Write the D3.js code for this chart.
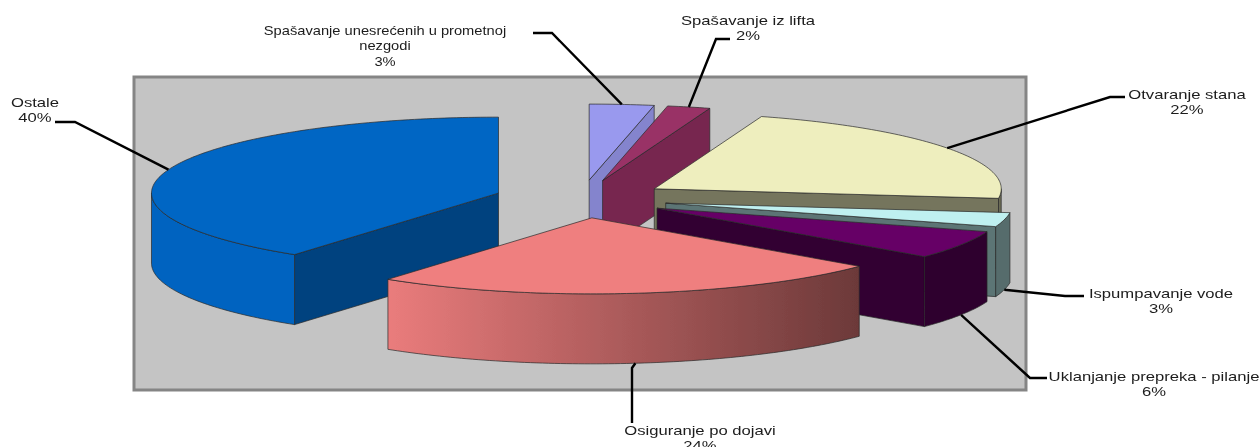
<!DOCTYPE html>
<html>
<head>
<meta charset="utf-8">
<script src="https://cdn.jsdelivr.net/npm/d3@7"></script>
<style>
  body { margin: 0; background: #fff; }
  text { font-family: "Liberation Sans", Arial, sans-serif; font-size: 13px; fill: #1c1c1c; }
</style>
</head>
<body>
<svg width="1260" height="447"></svg>
<script>
// slices clockwise from 12 o'clock
const categories = ['Spašavanje unesrećenih u prometnoj nezgodi', 'Spašavanje iz lifta', 'Otvaranje stana',
	'Ispumpavanje vode', 'Uklanjanje prepreka - pilanje', 'Osiguranje po dojavi', 'Ostale'];
const shares = [3, 2, 22, 3, 6, 24, 40];
const topColors = ['#9999ee', '#993366', '#eeeebe', '#bff0f0', '#660066', '#ef7f7f', '#0066c4'];
const labelLines = [
	['Spašavanje unesrećenih u prometnoj', 'nezgodi', '3%'],
	['Spašavanje iz lifta', '2%'],
	['Otvaranje stana', '22%'],
	['Ispumpavanje vode', '3%'],
	['Uklanjanje prepreka - pilanje', '6%'],
	['Osiguranje po dojavi', '24%'],
	['Ostale', '40%']
];

// label layout: text centre, first baseline, horizontal stretch, leader end and elbow
const labelBoxes = [
	{ x: 385, y: 35, sx: 1.13, end: [533, 33], elbow: [552, 33], onRim: false },
	{ x: 748, y: 25, sx: 1.28, end: [730, 39], elbow: [716, 39], onRim: false },
	{ x: 1187, y: 99, sx: 1.28, end: [1125, 97], elbow: [1110, 97], onRim: false },
	{ x: 1161, y: 298, sx: 1.28, end: [1084, 296], elbow: [1065, 296], onRim: true },
	{ x: 1154, y: 381, sx: 1.28, end: [1047, 378], elbow: [1030, 378], onRim: true },
	{ x: 700, y: 435, sx: 1.28, end: [632, 423], elbow: [632, 368], onRim: true },
	{ x: 35, y: 107, sx: 1.28, end: [55, 122], elbow: [75, 122], onRim: false }
];
const lineGap = 15.5;

const svg = d3.select('svg');
const cx = 581, cy = 199, rx = 347, ry = 76, depth = 70, explode = 0.25;

const xUnit = d3.scaleLinear().domain([-1, 1]).range([cx - rx, cx + rx]);
const yUnit = d3.scaleLinear().domain([-1, 1]).range([cy - ry, cy + ry]);

const pie = d3.pie().sort(null).value(d => d);
const arcs = pie(shares);
const deg = Math.PI / 180;

// how much darker the sides get
const rimShade = d3.scaleLinear().domain([-0.588, 0.77]).range([0.98, 0.45]).clamp(true);
const wallShade = d3.scaleLinear().domain([10.8, 18, 97.2, 129.6, 216]).range([0.86, 0.78, 0.49, 0.47, 0.65]);

function shade(color, k) {
	const c = d3.rgb(color);
	return d3.rgb(c.r * k, c.g * k, c.b * k).formatHex();
}

function pt(a, i, drop) {
	const d = arcs[i];
	const mid = (d.startAngle + d.endAngle) / 2;
	const ux = Math.sin(a) + explode * Math.sin(mid);
	const uy = -Math.cos(a) - explode * Math.cos(mid);
	return [xUnit(ux), yUnit(uy) + (drop || 0)];
}

function centre(i, drop) {
	const d = arcs[i];
	const mid = (d.startAngle + d.endAngle) / 2;
	return [xUnit(explode * Math.sin(mid)), yUnit(-explode * Math.cos(mid)) + (drop || 0)];
}

function sweep(a0, a1) {
	const n = Math.max(2, Math.ceil((a1 - a0) / deg));
	return d3.range(n + 1).map(k => a0 + (a1 - a0) * k / n);
}

const line = d3.line();
const defs = svg.append('defs');

const root = svg.append('g').attr('filter', 'url(#soft)');
defs.append('filter').attr('id', 'soft')
	.attr('filterUnits', 'userSpaceOnUse')
	.attr('x', 0).attr('y', 0).attr('width', 1260).attr('height', 447)
	.append('feGaussianBlur').attr('stdDeviation', 0.55);

root.append('rect').attr('x', 134).attr('y', 77).attr('width', 892).attr('height', 313)
	.attr('fill', '#c4c4c4').attr('stroke', '#858585').attr('stroke-width', 3);

// paint order: back slices first, the biggest slice sits behind the pink one
const paintOrder = [6, 0, 1, 2, 3, 4, 5];
const edge = '#2a2a2a';

paintOrder.forEach(i => {
	const d = arcs[i];
	const g = root.append('g').attr('class', 'slice');
	const color = topColors[i];
	const a0 = d.startAngle, a1 = d.endAngle;

	// radial wall facing the viewer
	let wallAngle = null;
	if (a1 / deg < 180) wallAngle = a1;
	else if (a0 / deg > 180) wallAngle = a0;
	if (wallAngle !== null) {
		const p = [centre(i), pt(wallAngle, i), pt(wallAngle, i, depth), centre(i, depth)];
		g.append('path').attr('d', line(p) + 'Z')
			.attr('fill', shade(color, wallShade(wallAngle / deg)))
			.attr('stroke', edge).attr('stroke-width', 0.7);
	}

	// outer rim, front half only
	const r0 = Math.max(a0, 90 * deg), r1 = Math.min(a1, 270 * deg);
	if (r1 > r0) {
		const angles = sweep(r0, r1);
		const upper = angles.map(a => pt(a, i));
		const lower = angles.map(a => pt(a, i, depth)).reverse();
		const xs = upper.map(p => p[0]);
		const id = 'rim' + i;
		const unitL = Math.min(Math.sin(r0), Math.sin(r1)), unitR = Math.max(Math.sin(r0), Math.sin(r1));
		const grad = defs.append('linearGradient').attr('id', id).attr('gradientUnits', 'userSpaceOnUse')
			.attr('x1', d3.min(xs)).attr('x2', d3.max(xs)).attr('y1', 0).attr('y2', 0);
		grad.append('stop').attr('offset', 0).attr('stop-color', shade(color, rimShade(unitL)));
		grad.append('stop').attr('offset', 1).attr('stop-color', shade(color, rimShade(unitR)));
		g.append('path').attr('d', line(upper.concat(lower)) + 'Z')
			.attr('fill', 'url(#' + id + ')')
			.attr('stroke', edge).attr('stroke-width', 0.7);
	}

	// top face
	const top = [centre(i)].concat(sweep(a0, a1).map(a => pt(a, i)));
	g.append('path').attr('d', line(top) + 'Z')
		.attr('fill', color).attr('stroke', edge).attr('stroke-width', 0.7);
});

// leader lines start on the rim at each slice's middle angle
const leaderG = root.append('g');
arcs.forEach((d, i) => {
	const mid = (d.startAngle + d.endAngle) / 2;
	const box = labelBoxes[i];
	const start = pt(mid, i, box.onRim ? depth : 0);
	leaderG.append('path').attr('d', line([start, box.elbow, box.end]))
		.attr('fill', 'none').attr('stroke', '#000').attr('stroke-width', 2.4);
});

const labelG = root.append('g');
labelLines.forEach((lines, i) => {
	const box = labelBoxes[i];
	const t = labelG.append('g').attr('transform', 'translate(' + box.x + ',' + box.y + ') scale(' + box.sx + ',1)');
	t.selectAll('text').data(lines).enter().append('text')
		.attr('text-anchor', 'middle')
		.attr('y', (l, k) => k * lineGap)
		.text(l => l);
});
</script>
</body>
</html>
